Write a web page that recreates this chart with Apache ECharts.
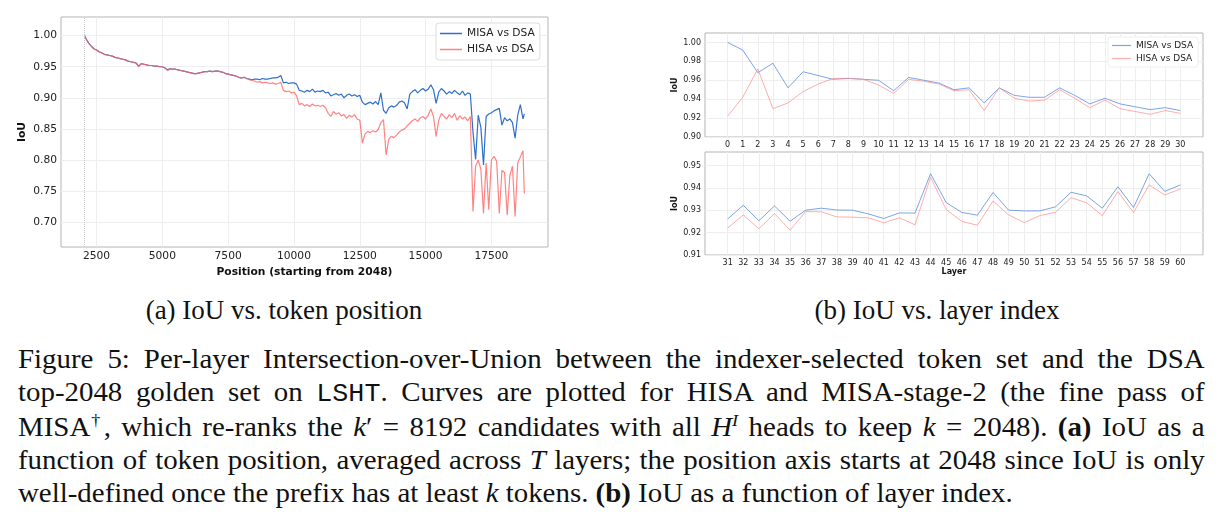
<!DOCTYPE html>
<html lang="en">
<head>
    <meta charset="UTF-8">
    <title>Figure 5: IoU vs. token position / layer index</title>
    <script src="https://cdn.jsdelivr.net/npm/echarts@6/dist/echarts.min.js"></script>
    <style>
        body { margin: 0; background: #fff; width: 1222px; height: 524px; position: relative; overflow: hidden; }
        #figure { position: absolute; left: 0; top: 0; width: 1222px; height: 290px; }
        .serif { font-family: "Liberation Serif", "DejaVu Serif", serif; color: #111; position: absolute; }
        .sub { font-size: 27px; line-height: 30px; text-align: center; width: 400px; top: 295px; }
        .cap { left: 18px; top: 343px; width: 1109px; font-size: 27px; line-height: 33px;
               transform: scaleX(1.07); transform-origin: 0 0; }
        .cap div { white-space: nowrap; }
        .cap .j { text-align: justify; text-align-last: justify; }
        .mono { font-family: "Liberation Mono", monospace; font-size: 25px; }
        sup { font-size: 17px; line-height: 0; }
        .dag { margin-left: -2px; }
    </style>
</head>
<body>
<div id="figure"></div>
<div class="serif sub" style="left: 84px;">(a) IoU vs. token position</div>
<div class="serif sub" style="left: 737px;">(b) IoU vs. layer index</div>
<div class="serif cap">
    <div class="j">Figure 5: Per-layer Intersection-over-Union between the indexer-selected token set and the DSA</div>
    <div class="j">top-2048 golden set on <span class="mono">LSHT</span>. Curves are plotted for HISA and MISA-stage-2 (the fine pass of</div>
    <div class="j">MISA<sup class="dag">†</sup>, which re-ranks the <i>k</i>′ = 8192 candidates with all <i>H</i><sup><i>I</i></sup> heads to keep <i>k</i> = 2048). <b>(a)</b> IoU as a</div>
    <div class="j">function of token position, averaged across <i>T</i> layers; the position axis starts at 2048 since IoU is only</div>
    <div>well-defined once the prefix has at least <i>k</i> tokens. <b>(b)</b> IoU as a function of layer index.</div>
</div>
<script>

  // (a) IoU vs. token position
  var startPos = 2048;
  var positions = [
    2048,
    2100, 2200, 2300, 2400, 2500, 2600, 2700, 2800, 2900,
    3000, 3100, 3200, 3300, 3400, 3500, 3600, 3700, 3800, 3900,
    4000, 4100, 4200, 4300, 4400, 4500, 4600, 4700, 4800, 4900,
    5000, 5100, 5200, 5300, 5400, 5500, 5600, 5700, 5800, 5900,
    6000, 6100, 6200, 6300, 6400, 6500, 6600, 6700, 6800, 6900,
    7000, 7100, 7200, 7300, 7400, 7500, 7600, 7700, 7800, 7900,
    8000, 8100, 8200, 8300, 8400, 8500, 8600, 8700, 8800, 8900,
    9000, 9100, 9200, 9300, 9400, 9500, 9600, 9700, 9800, 9900,
    10000, 10100, 10200, 10300, 10400, 10500, 10600, 10700, 10800, 10900,
    11000, 11100, 11200, 11300, 11400, 11500, 11600, 11700, 11800, 11900,
    12000, 12100, 12200, 12300, 12400, 12500, 12600, 12700, 12800, 12900,
    13000, 13100, 13200, 13300, 13400, 13500, 13600, 13700, 13800, 13900,
    14000, 14100, 14200, 14300, 14400, 14500, 14600, 14700, 14800, 14900,
    15000, 15100, 15200, 15300, 15400, 15500, 15600, 15700, 15800, 15900,
    16000, 16100, 16200, 16300, 16400, 16500, 16600, 16700, 16800, 16900,
    17000, 17100, 17200, 17300, 17400, 17500, 17600, 17700, 17800, 17900,
    18000, 18100, 18200, 18300, 18400, 18500, 18600, 18700,
    18750
  ];
  var misaByPos = [
    1.000,
    0.995, 0.988, 0.983, 0.979, 0.977, 0.974, 0.972, 0.970, 0.969,
    0.968, 0.967, 0.965, 0.964, 0.963, 0.962, 0.961, 0.959, 0.958, 0.957,
    0.956, 0.951, 0.955, 0.954, 0.953, 0.952, 0.952, 0.951, 0.951, 0.950,
    0.950, 0.948, 0.945, 0.947, 0.946, 0.946, 0.945, 0.944, 0.943, 0.942,
    0.941, 0.940, 0.939, 0.939, 0.940, 0.941, 0.942, 0.942, 0.943, 0.942,
    0.943, 0.943, 0.942, 0.941, 0.939, 0.938, 0.937, 0.936, 0.935, 0.933,
    0.932, 0.933, 0.931, 0.930, 0.929, 0.930, 0.930, 0.929, 0.931, 0.930,
    0.930, 0.931, 0.932, 0.932, 0.933, 0.936, 0.924, 0.925, 0.923, 0.924,
    0.924, 0.922, 0.912, 0.911, 0.909, 0.912, 0.910, 0.914, 0.909, 0.911,
    0.910, 0.912, 0.908, 0.909, 0.903, 0.905, 0.907, 0.904, 0.906, 0.900,
    0.904, 0.906, 0.903, 0.905, 0.902, 0.904, 0.893, 0.889, 0.891, 0.893,
    0.890, 0.894, 0.889, 0.908, 0.880, 0.875, 0.884, 0.887, 0.885, 0.888,
    0.893, 0.895, 0.892, 0.882, 0.906, 0.910, 0.913, 0.908, 0.912, 0.915,
    0.911, 0.914, 0.921, 0.913, 0.891, 0.909, 0.915, 0.911, 0.906, 0.910,
    0.907, 0.912, 0.908, 0.905, 0.911, 0.904, 0.908, 0.906, 0.845, 0.801,
    0.872, 0.852, 0.792, 0.870, 0.874, 0.876, 0.879, 0.881, 0.883, 0.856,
    0.868, 0.863, 0.866, 0.860, 0.835, 0.872, 0.889, 0.866,
    0.874
  ];
  var hisaByPos = [
    1.000,
    0.995, 0.988, 0.983, 0.979, 0.977, 0.974, 0.972, 0.970, 0.969,
    0.968, 0.967, 0.965, 0.964, 0.963, 0.962, 0.961, 0.959, 0.958, 0.957,
    0.956, 0.950, 0.955, 0.954, 0.953, 0.952, 0.952, 0.951, 0.951, 0.950,
    0.950, 0.948, 0.944, 0.947, 0.946, 0.946, 0.945, 0.944, 0.943, 0.942,
    0.941, 0.940, 0.939, 0.939, 0.940, 0.941, 0.942, 0.942, 0.943, 0.942,
    0.943, 0.943, 0.942, 0.941, 0.939, 0.938, 0.937, 0.936, 0.935, 0.933,
    0.932, 0.933, 0.931, 0.929, 0.928, 0.927, 0.925, 0.926, 0.924, 0.925,
    0.924, 0.923, 0.924, 0.922, 0.923, 0.925, 0.912, 0.910, 0.911, 0.908,
    0.909, 0.903, 0.889, 0.891, 0.887, 0.889, 0.886, 0.890, 0.887, 0.888,
    0.886, 0.888, 0.884, 0.875, 0.870, 0.878, 0.874, 0.876, 0.871, 0.873,
    0.867, 0.872, 0.869, 0.873, 0.866, 0.864, 0.827, 0.842, 0.846, 0.844,
    0.847, 0.845, 0.849, 0.860, 0.865, 0.808, 0.833, 0.838, 0.836, 0.840,
    0.845, 0.848, 0.850, 0.855, 0.859, 0.863, 0.866, 0.862, 0.868, 0.870,
    0.866, 0.872, 0.882, 0.870, 0.838, 0.864, 0.875, 0.870, 0.866, 0.873,
    0.868, 0.875, 0.864, 0.871, 0.866, 0.869, 0.863, 0.870, 0.717, 0.790,
    0.800, 0.785, 0.714, 0.795, 0.720, 0.800, 0.806, 0.798, 0.714, 0.783,
    0.780, 0.711, 0.775, 0.790, 0.709, 0.795, 0.805, 0.815,
    0.746
  ];
  var posTicks = [2500, 5000, 7500, 10000, 12500, 15000, 17500];
  var iouTicksA = [0.70, 0.75, 0.80, 0.85, 0.90, 0.95, 1.00];

  // (b) IoU vs. layer index
  var layersTop = [0, 1, 2, 3, 4, 5, 6, 7, 8, 9, 10, 11, 12, 13, 14, 15, 16, 17, 18, 19, 20, 21, 22, 23, 24, 25, 26, 27, 28, 29, 30];
  var misaTop = [1.000, 0.992, 0.968, 0.978, 0.952, 0.969, 0.965, 0.961, 0.962, 0.961, 0.960,
    0.949, 0.963, 0.960, 0.957, 0.950, 0.952, 0.936, 0.952, 0.944, 0.942,
    0.942, 0.952, 0.944, 0.935, 0.941, 0.935, 0.932, 0.929, 0.931, 0.928];
  var hisaTop = [0.922, 0.942, 0.972, 0.930, 0.936, 0.948, 0.956, 0.962, 0.962, 0.961, 0.955,
    0.946, 0.961, 0.959, 0.956, 0.949, 0.950, 0.928, 0.952, 0.941, 0.938,
    0.939, 0.950, 0.941, 0.931, 0.939, 0.930, 0.927, 0.924, 0.928, 0.925];
  var layersBottom = [31, 32, 33, 34, 35, 36, 37, 38, 39, 40, 41, 42, 43, 44, 45, 46, 47, 48, 49, 50, 51, 52, 53, 54, 55, 56, 57, 58, 59, 60];
  var misaBottom = [0.9261, 0.9322, 0.9253, 0.9319, 0.9251, 0.9300, 0.9309, 0.9301, 0.9300, 0.9284,
    0.9263, 0.9288, 0.9287, 0.9463, 0.9334, 0.9290, 0.9278, 0.9379, 0.9300, 0.9297,
    0.9297, 0.9315, 0.9380, 0.9364, 0.9309, 0.9405, 0.9312, 0.9463, 0.9384, 0.9413];
  var hisaBottom = [0.9220, 0.9279, 0.9217, 0.9285, 0.9211, 0.9294, 0.9293, 0.9270, 0.9269, 0.9266,
    0.9244, 0.9266, 0.9235, 0.9447, 0.9303, 0.9250, 0.9233, 0.9341, 0.9279, 0.9245,
    0.9276, 0.9291, 0.9356, 0.9333, 0.9276, 0.9383, 0.9290, 0.9413, 0.9368, 0.9395];
  var iouTicksTop = [0.90, 0.92, 0.94, 0.96, 0.98, 1.00];
  var iouTicksBottom = [0.91, 0.92, 0.93, 0.94, 0.95];

  var BLUE = '#2f6fcc';
  var RED = '#ff6464';
  var BLUE_B = '#5d8fe0';
  var RED_B = '#ff8a8a';
  var FONT = '"DejaVu Sans", sans-serif';

  function zip(xs, ys) {
    return xs.map(function (x, i) { return [x, ys[i]]; });
  }

  function fmt2(v) { return v.toFixed(2); }
  function plain(v) { return String(v); }

  function valueAxis(gridIndex, min, max, ticks, size, fmt, extra) {
    var axis = {
      type: 'value',
      gridIndex: gridIndex,
      min: min,
      max: max,
      axisLine: { show: false },
      axisTick: { show: false, customValues: ticks },
      axisLabel: { customValues: ticks, formatter: fmt, fontSize: size, color: '#222', fontFamily: FONT, margin: 4 },
      splitLine: { show: true, lineStyle: { color: '#eeeeee', width: 1 } },
      nameTextStyle: { fontWeight: 'bold', fontSize: size, color: '#111', fontFamily: FONT }
    };
    return Object.assign(axis, extra || {});
  }

  var chart = echarts.init(document.getElementById('figure'));

  var gridStyle = { show: true, borderColor: '#b5b5b5', borderWidth: 1, backgroundColor: '#fff' };

  chart.setOption({
    animation: false,
    grid: [
      Object.assign({ left: 61, top: 17, width: 487, height: 230 }, gridStyle),
      Object.assign({ left: 705, top: 33, width: 498, height: 104 }, gridStyle),
      Object.assign({ left: 705, top: 152, width: 498, height: 103 }, gridStyle)
    ],
    legend: [
      {
        orient: 'vertical', left: 436, top: 23, icon: 'rect', itemWidth: 22, itemHeight: 1.5, itemGap: 5,
        padding: [5, 5, 5, 4], borderColor: '#dddddd', borderWidth: 1, borderRadius: 3, backgroundColor: '#fff',
        textStyle: { fontSize: 10.7, color: '#222', fontFamily: FONT },
        data: [
          { name: 'MISA vs DSA', itemStyle: { color: BLUE } },
          { name: 'HISA vs DSA', itemStyle: { color: RED, opacity: 0.8 } }
        ],
        selectedMode: false
      },
      {
        orient: 'vertical', left: 1108, top: 37, icon: 'rect', itemWidth: 19, itemHeight: 1.2, itemGap: 4,
        padding: [4, 5, 4, 4], borderColor: '#eeeeee', borderWidth: 1, borderRadius: 3, backgroundColor: '#fff',
        textStyle: { fontSize: 9, color: '#222', fontFamily: FONT },
        data: [
          { name: 'MISA vs DSA', itemStyle: { color: BLUE_B, opacity: 0.8 } },
          { name: 'HISA vs DSA', itemStyle: { color: RED_B, opacity: 0.7 } }
        ],
        selectedMode: false
      }
    ],
    xAxis: [
      valueAxis(0, 1150, 19650, posTicks, 10.7, plain, {
        name: 'Position (starting from 2048)', nameLocation: 'middle', nameGap: 15
      }),
      valueAxis(1, -1.5, 31.5, layersTop, 8, plain, {}),
      valueAxis(2, 29.55, 61.45, layersBottom, 8, plain, {
        name: 'Layer', nameLocation: 'middle', nameGap: 11
      })
    ],
    yAxis: [
      valueAxis(0, 0.66, 1.03, iouTicksA, 10.7, fmt2, {
        name: 'IoU', nameLocation: 'middle', nameGap: 33
      }),
      valueAxis(1, 0.90, 1.01, iouTicksTop, 8, fmt2, {
        name: 'IoU', nameLocation: 'middle', nameGap: 23
      }),
      valueAxis(2, 0.91, 0.956, iouTicksBottom, 8, fmt2, {
        name: 'IoU', nameLocation: 'middle', nameGap: 23
      })
    ],
    series: [
      {
        name: 'MISA vs DSA', type: 'line', xAxisIndex: 0, yAxisIndex: 0, symbol: 'none',
        data: zip(positions, misaByPos),
        lineStyle: { color: BLUE, width: 1.2 }, itemStyle: { color: BLUE },
        markLine: {
          silent: true, symbol: 'none', label: { show: false },
          lineStyle: { color: '#c8c8c8', type: 'dotted', width: 1 },
          data: [{ xAxis: startPos }]
        }
      },
      {
        name: 'HISA vs DSA', type: 'line', xAxisIndex: 0, yAxisIndex: 0, symbol: 'none',
        data: zip(positions, hisaByPos),
        lineStyle: { color: RED, width: 1.2, opacity: 0.8 }, itemStyle: { color: RED }
      },
      {
        name: 'MISA vs DSA', type: 'line', xAxisIndex: 1, yAxisIndex: 1, symbol: 'none',
        data: zip(layersTop, misaTop),
        lineStyle: { color: BLUE_B, width: 1, opacity: 0.8 }, itemStyle: { color: BLUE_B }
      },
      {
        name: 'HISA vs DSA', type: 'line', xAxisIndex: 1, yAxisIndex: 1, symbol: 'none',
        data: zip(layersTop, hisaTop),
        lineStyle: { color: RED_B, width: 1, opacity: 0.7 }, itemStyle: { color: RED_B }
      },
      {
        name: 'MISA vs DSA', type: 'line', xAxisIndex: 2, yAxisIndex: 2, symbol: 'none',
        data: zip(layersBottom, misaBottom),
        lineStyle: { color: BLUE_B, width: 1, opacity: 0.8 }, itemStyle: { color: BLUE_B }
      },
      {
        name: 'HISA vs DSA', type: 'line', xAxisIndex: 2, yAxisIndex: 2, symbol: 'none',
        data: zip(layersBottom, hisaBottom),
        lineStyle: { color: RED_B, width: 1, opacity: 0.7 }, itemStyle: { color: RED_B }
      }
    ]
  });
</script>
</body>
</html>
